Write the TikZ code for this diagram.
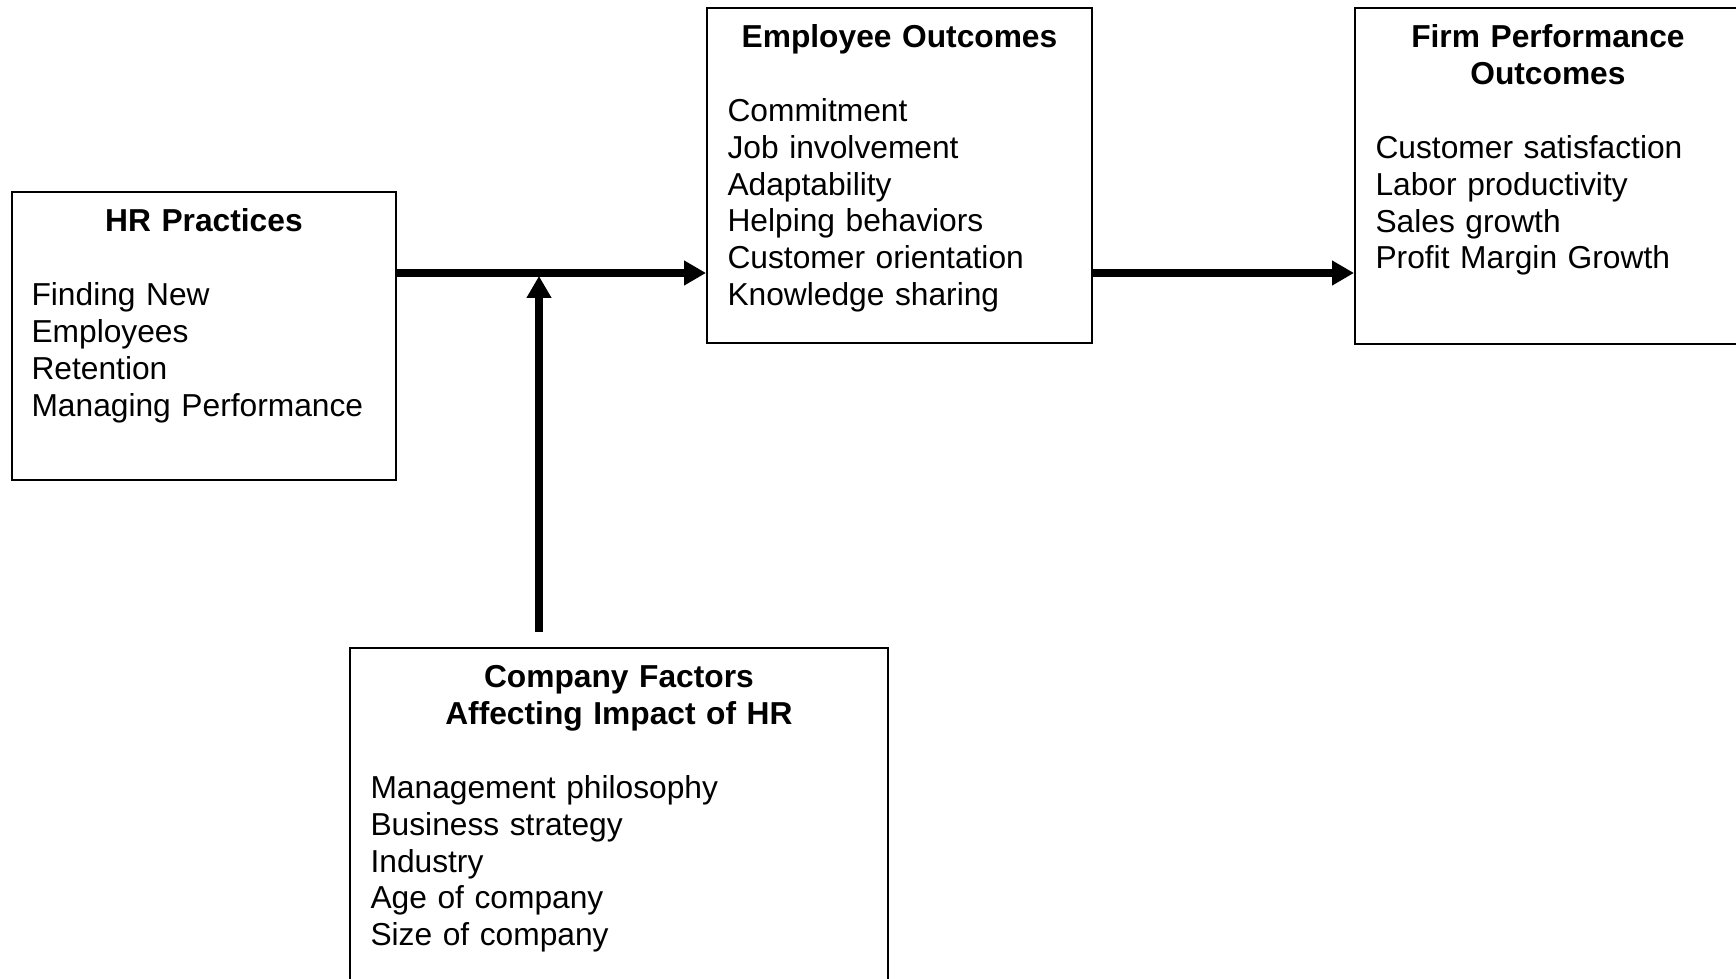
\documentclass[tikz,border=0pt]{standalone}
\usepackage{fontspec}
\setmainfont{Liberation Sans}
\usetikzlibrary{arrows.meta,positioning}
\begin{document}
\begin{tikzpicture}[x=0.375pt, y=-0.375pt,
  box/.style={draw, line width=0.7pt, anchor=north west, inner sep=0pt},
  title node/.style={anchor=base, inner sep=0pt, align=center, text width=190pt, font=\fontsize{11.9}{13.8}\selectfont\bfseries},
  list node/.style={anchor=base west, inner sep=0pt, align=left, text width=150pt, font=\fontsize{11.9}{13.8}\selectfont},
  link/.style={line width=3.2pt, -{Triangle[length=8.2pt, width=8.8pt]}}]
        \clip (0,0) rectangle (1736,979);

          % the four boxes
          \node[box, minimum width=144pt, minimum height=108pt] (hr) at (11,191) {};
          \node[box, minimum width=144.4pt, minimum height=125.6pt] (emp) at (706,7) {};
          \node[box, minimum width=144.75pt, minimum height=126pt] (firm) at (1354,7) {};
          \node[box, minimum width=201.75pt, minimum height=135pt] (cf) at (349,647) {};

          % titles
          \node[title node] (hrtitle) at ([shift={(0,40.75)}]hr.north) {HR Practices};
          \node[title node] (emptitle) at ([shift={(0,40.75)}]emp.north) {Employee Outcomes};
          \node[title node] (firmtitle) at ([shift={(0,40.75)}]firm.north) {Firm Performance\\Outcomes};
          \node[title node] (cftitle) at ([shift={(0,40.75)}]cf.north) {Company Factors\\Affecting Impact of HR};

          % lists
          \node[list node] (hrlist) at ([shift={(20,114.75)}]hr.north west)
            {Finding New\\Employees\\Retention\\Managing Performance};
          \node[list node] (emplist) at ([shift={(21,114.5)}]emp.north west)
            {Commitment\\Job involvement\\Adaptability\\Helping behaviors\\Customer orientation\\Knowledge sharing};
          \node[list node] (firmlist) at ([shift={(21,151.5)}]firm.north west)
            {Customer satisfaction\\Labor productivity\\Sales growth\\Profit Margin Growth};
          \node[list node] (cflist) at ([shift={(21,151.5)}]cf.north west)
            {Management philosophy\\Business strategy\\Industry\\Age of company\\Size of company};

          % arrows
          \coordinate (hrout) at ([shift={(0,82)}]hr.north east);
          \coordinate (cfout) at (539,632);
          \coordinate (meet) at (539,276);
          \draw[link] (hrout) -- (hrout -| emp.west);
          \draw[link] (hrout -| emp.east) -- (hrout -| firm.west);
          \draw[link] (cfout) -- (meet);

        \end{tikzpicture}
\end{document}
